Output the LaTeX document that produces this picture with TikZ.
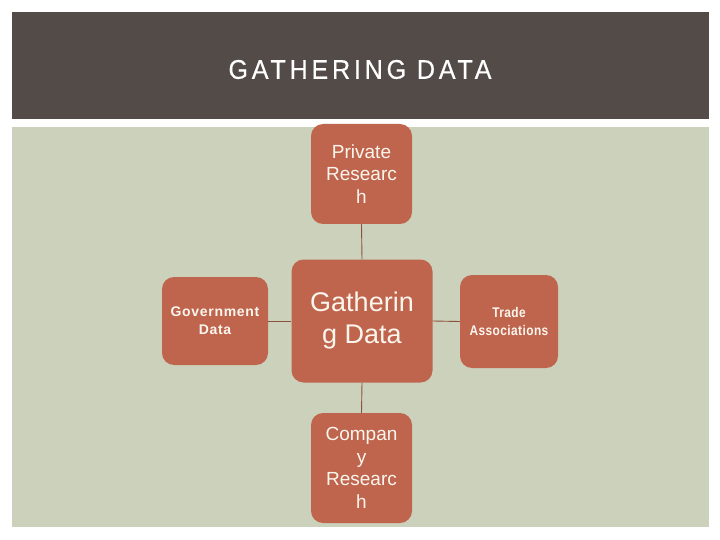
\documentclass[tikz,border=0pt]{standalone}
\usepackage{fontspec}
\setmainfont{Liberation Sans}
\newfontfamily\titlefont[FakeStretch=0.93,LetterSpace=14,FakeBold=0.4]{Liberation Sans}
\newfontfamily\govfont[LetterSpace=5]{Liberation Sans Bold}
\newfontfamily\tradefont[FakeStretch=0.85,LetterSpace=3]{Liberation Sans Bold}
\definecolor{banner}{RGB}{83,75,72}
\definecolor{panel}{RGB}{204,209,188}
\definecolor{boxfill}{RGB}{192,101,77}
\definecolor{conncol}{RGB}{140,82,62}
\definecolor{boxtext}{RGB}{250,246,238}
\tikzset{
  rbox/.style={fill=boxfill, rounded corners=12pt, inner sep=0pt, align=center, text=boxtext},
  conn/.style={draw=conncol, line width=0.9pt},
}
\begin{document}
\begin{tikzpicture}[x=1pt,y=-1pt]
\useasboundingbox (0,0) rectangle (720,540);
\fill[white] (0,0) rectangle (720,540);
\fill[banner] (12,12) rectangle (709,119);
\fill[panel] (12,127) rectangle (709,527);
\node[text=white, font=\titlefont\fontsize{27}{30}\selectfont] (title) at (360,69.5) {GATHERING DATA};

\node[rbox, minimum width=141pt, minimum height=123pt, font=\fontsize{27}{32}\selectfont] (center) at (362,321) {Gatherin\\g Data};
\node[rbox, minimum width=101pt, minimum height=100pt, font=\fontsize{19}{22.5}\selectfont] (top) at (361.5,174) {Private\\Researc\\h};
\node[rbox, minimum width=101pt, minimum height=110pt, font=\fontsize{19}{22.5}\selectfont] (bottom) at (361.5,468) {Compan\\y\\Researc\\h};
\node[rbox, minimum width=106pt, minimum height=88pt, font=\govfont\fontsize{14}{18}\selectfont] (left) at (215,321) {Government\\Data};
\node[rbox, minimum width=98pt, minimum height=93pt, font=\tradefont\fontsize{14}{17.5}\selectfont] (right) at (509,321.5) {Trade\\Associations};

\draw[conn] (top.south) -- (center.north);
\draw[conn] (center.south) -- (bottom.north);
\draw[conn] (left.east) -- (center.west);
\draw[conn] (center.east) -- (right.west);
\end{tikzpicture}
\end{document}
